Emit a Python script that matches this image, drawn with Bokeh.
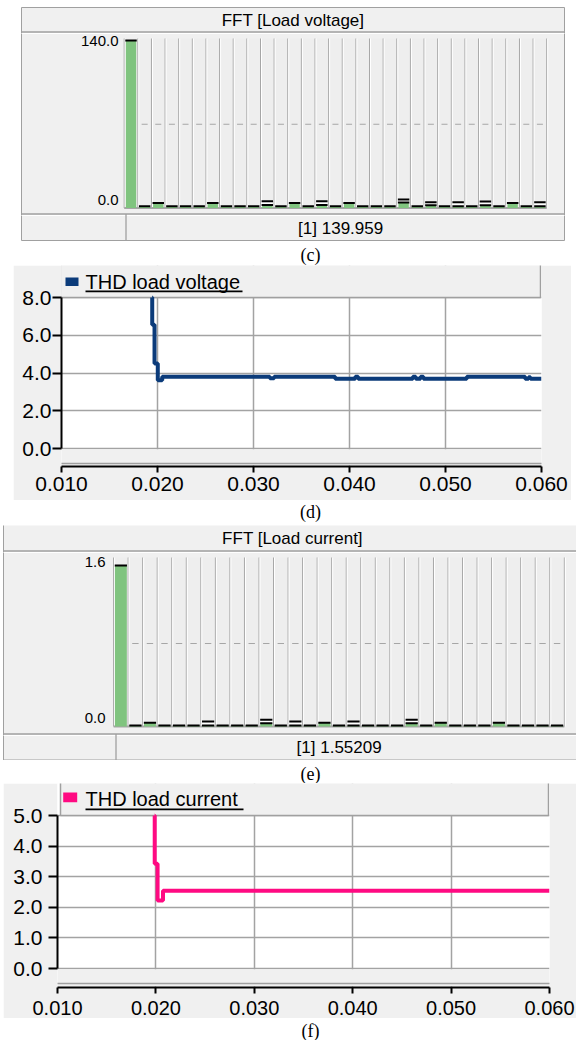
import numpy as np
from bokeh.plotting import figure
from bokeh.models import Range1d, FixedTicker, PrintfTickFormatter, Spacer
from bokeh.layouts import column, row
from bokeh.embed import file_html
from bokeh.resources import INLINE
from bokeh.core.properties import value

# ---------------------------------------------------------------- data
harmonics = list(range(1, 32))

v_fft_value = [139.959, 1.4, 4.1, 1.4, 1.4, 1.4, 4.1, 1.4, 1.4, 1.4,
               2.6, 1.4, 4.1, 1.4, 2.6, 1.4, 4.1, 1.4, 1.4, 1.4,
               4.5, 1.4, 2.4, 1.4, 1.4, 1.4, 2.4, 1.4, 4.1, 1.4, 1.4]
v_fft_peak = [139.959, 1.4, 4.1, 1.4, 1.4, 1.4, 4.1, 1.4, 1.4, 1.4,
              5.6, 1.4, 4.1, 1.4, 5.6, 1.4, 4.1, 1.4, 1.4, 1.4,
              7.1, 1.4, 4.9, 1.4, 4.9, 1.4, 5.4, 1.4, 4.1, 1.4, 4.9]
v_fft_ticks = [0.0, 140.0]
v_fft_tick_labels = ["0.0", "140.0"]

i_fft_value = [1.55209, 0.010, 0.036, 0.010, 0.010, 0.010, 0.010, 0.010, 0.010, 0.010,
               0.032, 0.010, 0.010, 0.010, 0.036, 0.010, 0.010, 0.010, 0.010, 0.010,
               0.032, 0.010, 0.036, 0.010, 0.010, 0.010, 0.036, 0.010, 0.010, 0.010, 0.010]
i_fft_peak = [1.55209, 0.010, 0.036, 0.010, 0.010, 0.010, 0.048, 0.010, 0.010, 0.010,
              0.065, 0.010, 0.048, 0.010, 0.036, 0.010, 0.048, 0.010, 0.010, 0.010,
              0.065, 0.010, 0.036, 0.010, 0.010, 0.010, 0.036, 0.010, 0.010, 0.010, 0.010]
i_fft_ticks = [0.0, 1.6]
i_fft_tick_labels = ["0.0", "1.6"]

thd_v_time = [0.01944, 0.01945, 0.01969, 0.02003, 0.02049, 0.03170, 0.03215, 0.03851,
              0.04060, 0.04090, 0.04660, 0.04690, 0.04740, 0.04770, 0.05222, 0.05830,
              0.05865, 0.05885, 0.06000]
thd_v_value = [8.00, 6.55, 4.50, 3.62, 3.80, 3.72, 3.80, 3.70,
               3.80, 3.70, 3.80, 3.70, 3.80, 3.70, 3.80, 3.70,
               3.78, 3.70, 3.70]

thd_i_time = [0.01987, 0.01988, 0.02017, 0.02072, 0.06000]
thd_i_value = [5.00, 3.42, 2.22, 2.54, 2.54]

thd_x_ticks = [0.010, 0.020, 0.030, 0.040, 0.050, 0.060]
thd_v_y_ticks = [0.0, 2.0, 4.0, 6.0, 8.0]
thd_i_y_ticks = [0.0, 1.0, 2.0, 3.0, 4.0, 5.0]

# ---------------------------------------------------------------- style
GRAY = "#f0f0f0"
EDGE = "#a0a0a0"
GREEN = "#80c47f"
BLUE = "#0b3b7a"
PINK = "#ff0a82"
SANS = "Liberation Sans"
SERIF = "Liberation Serif"
X0, X1 = 0, 576
W = X1 - X0


def base(H, xr, yr, width=W, **kw):
    opts = dict(width=width, height=H, x_range=xr, y_range=yr, toolbar_location=None, tools="",
                output_backend="svg", title=None, min_border=0, min_border_left=0,
                min_border_right=0, min_border_top=0, min_border_bottom=0,
                outline_line_color=None, background_fill_color="white",
                border_fill_color="white", frame_align=False)
    opts.update(kw)
    return figure(**opts)


def fft_panel(c, values, peaks, ticks, tick_labels, title):
    top, bottom = c["top"], c["bottom"]
    p = base(bottom - top, Range1d(X0, X1), Range1d(bottom, top),
             x_axis_type=None, y_axis_type=None)
    s = (c["zero_px"] - c["tick_top_px"]) / ticks[-1]
    p.extra_x_ranges = {"h": Range1d(0.5 + (X0 - c["lane_left"]) / c["lane_w"],
                                     0.5 + (X1 - c["lane_left"]) / c["lane_w"])}
    p.extra_y_ranges = {"v": Range1d((c["zero_px"] - bottom) / s, (c["zero_px"] - top) / s)}
    hv = dict(x_range_name="h", y_range_name="v")

    # instrument frame
    p.quad(left=[c["box_l"]], right=[c["box_r"]], top=[c["box_t"]], bottom=[c["box_b"]],
           fill_color=GRAY, line_color=EDGE, line_width=1)
    p.segment(x0=[c["box_l"]] * 2, x1=[c["box_r"]] * 2, y0=[c["title_b"], c["sep_y"]],
              y1=[c["title_b"], c["sep_y"]], line_color=EDGE, line_width=1.3)
    p.segment(x0=[c["box_l"]] * 2, x1=[c["box_r"]] * 2, y0=[c["title_b"] + 1.5, c["sep_y"] + 1.5],
              y1=[c["title_b"] + 1.5, c["sep_y"] + 1.5], line_color="white", line_width=1)
    p.segment(x0=[c["div_x"]], x1=[c["div_x"]], y0=[c["sep_y"]], y1=[c["box_b"]],
              line_color=EDGE, line_width=1.3)

    # lanes
    h = np.array(harmonics, dtype=float)
    vals = np.array(values, dtype=float)
    pks = np.array(peaks, dtype=float)
    lane_top_v = (c["zero_px"] - c["lane_top"]) / s
    p.vbar(x=h, width=1.0, bottom=0, top=lane_top_v, fill_color="#eeeeee", line_color=None, **hv)
    edges = np.concatenate([[h[0] - 0.5], h + 0.5])
    p.segment(x0=edges, x1=edges, y0=0, y1=lane_top_v, line_color="#a6a6a6", line_width=1, **hv)
    p.segment(x0=edges + 1.0 / c["lane_w"], x1=edges + 1.0 / c["lane_w"], y0=0, y1=lane_top_v,
              line_color="white", line_width=1, **hv)
    mid = ticks[-1] / 2.0
    p.segment(x0=h - 0.22, x1=h + 0.22, y0=mid, y1=mid, line_color="#a6a6a6", line_width=1, **hv)
    p.segment(x0=[edges[0]], x1=[edges[-1]], y0=[0], y1=[0], line_color="#a6a6a6",
              line_width=2, **hv)

    # spectrum
    bw = c["bar_w"]
    p.vbar(x=h, width=bw, bottom=0, top=vals, fill_color=GREEN, line_color=None, **hv)
    p.vbar(x=h, width=bw, bottom=vals, top=pks, fill_color="white", line_color=None, **hv)
    p.segment(x0=h - 0.42, x1=h + 0.42, y0=vals, y1=vals, line_color="black", line_width=2, **hv)
    m = pks > vals
    p.segment(x0=h[m] - 0.42, x1=h[m] + 0.42, y0=pks[m], y1=pks[m], line_color="black",
              line_width=2, **hv)

    # texts
    p.text(x=[c["tick_x"]] * len(ticks), y=ticks, text=tick_labels, y_offset=c["tick_dy"],
           text_align="right", text_baseline="middle", text_font=value(SANS),
           text_font_size="15px", text_color="black", y_range_name="v")
    p.text(x=[c["title_xy"][0]], y=[c["title_xy"][1]], text=[title], text_align="center",
           text_baseline="middle", text_font=value(SANS), text_font_size="17px", text_color="black")
    p.text(x=[c["status_xy"][0]], y=[c["status_xy"][1]], text=["[1]  %g" % values[0]],
           text_align="center", text_baseline="middle", text_font=value(SANS),
           text_font_size="17px", text_color="black")
    return p


def thd_panel(c, times, vals, yticks, color, legend_text):
    top, bottom = c["top"], c["bottom"]
    gl, gr = c["gray_l"], c["gray_r"]
    fl, fr, fb = c["frame_l"], c["frame_r"], c["frame_b"]
    ytp, yzp = c["ytop_px"], c["yzero_px"]
    ymax = yticks[-1]
    s = (yzp - ytp) / ymax
    yr = Range1d(-(fb - yzp) / s, ymax + (ytp - top) / s)
    xr = Range1d(thd_x_ticks[0], thd_x_ticks[-1])
    p = base(bottom - top, xr, yr, width=gr - gl, min_border_left=fl - gl,
             min_border_right=gr - fr, min_border_bottom=bottom - fb,
             border_fill_color=GRAY, background_fill_color="white")
    p.extra_x_ranges = {"px": Range1d(fl, fr)}
    p.extra_y_ranges = {"px": Range1d(fb, top)}
    px = dict(x_range_name="px", y_range_name="px")

    xa, ya = p.xaxis[0], p.yaxis[0]
    xa.ticker = FixedTicker(ticks=thd_x_ticks)
    xa.formatter = PrintfTickFormatter(format="%.3f")
    ya.ticker = FixedTicker(ticks=yticks)
    ya.formatter = PrintfTickFormatter(format="%.1f")
    ya.bounds = (yticks[0], yticks[-1])
    for ax in (xa, ya):
        ax.axis_line_color = "black"
        ax.axis_line_width = 2
        ax.major_tick_line_color = "black"
        ax.major_tick_line_width = 2
        ax.major_tick_in = 0
        ax.minor_tick_line_color = None
        ax.major_label_text_font = SANS
        ax.major_label_text_color = "black"
    xa.major_tick_out = 6
    xa.major_label_standoff = c["x_standoff"]
    xa.major_label_text_font_size = c["x_font"]
    ya.major_tick_out = 9
    ya.major_label_standoff = c["y_standoff"]
    ya.major_label_text_font_size = "21px"

    for g in (p.xgrid[0], p.ygrid[0]):
        g.grid_line_color = "#a3a3a3"
        g.grid_line_width = 1.5

    # legend strip above the plot area, and strip between plot area and x axis
    p.quad(left=[c["leg_l"]], right=[c["leg_r"]], top=[top - 4], bottom=[ytp],
           fill_color=GRAY, line_color=EDGE, line_width=1.5, **px)
    p.quad(left=[fl - 3], right=[fr + 3], top=[yzp + 0.8], bottom=[fb - 1],
           fill_color=GRAY, line_color=None, **px)
    p.segment(x0=[fl - 3], x1=[fr + 3], y0=[c["sep"]], y1=[c["sep"]], line_color=EDGE,
              line_width=1.5, **px)

    p.step(x=times, y=vals, mode="after", line_color=color, line_width=4)

    sw = c["swatch"]
    p.quad(left=[sw[0]], right=[sw[1]], top=[sw[2]], bottom=[sw[3]], fill_color=color,
           line_color=None, **px)
    p.text(x=[c["text_xy"][0]], y=[c["text_xy"][1]], text=[legend_text],
           text_baseline="middle", text_align="left", text_font=value(SANS),
           text_font_size="20px", text_color="black", **px)
    ul = c["underline"]
    p.quad(left=[ul[0]], right=[ul[1]], top=[ul[2]], bottom=[ul[3]], fill_color="black",
           line_color=None, **px)

    children = []
    if gl > X0:
        children.append(Spacer(width=gl - X0, height=bottom - top))
    children.append(p)
    if gr < X1:
        children.append(Spacer(width=X1 - gr, height=bottom - top))
    return row(*children, spacing=0)


def caption(text, H, cy):
    p = base(H, Range1d(X0, X1), Range1d(H, 0), x_axis_type=None, y_axis_type=None)
    p.text(x=[310], y=[cy], text=[text], text_align="center", text_baseline="middle",
           text_font=value(SERIF), text_font_size="18px", text_color="black")
    return p


cfg_fv = dict(top=0, bottom=241, box_l=21, box_r=564, box_t=7, box_b=240, title_b=31.5,
              sep_y=213.5, div_x=125.5, lane_left=123.7, lane_w=13.63, lane_top=38,
              zero_px=207.5, tick_top_px=40, tick_x=118, tick_dy=[-8.5, 0],
              title_xy=(292.5, 19.5), status_xy=(342.5, 227.5), bar_w=0.76)
cfg_fi = dict(top=525, bottom=760, box_l=3, box_r=577, box_t=524, box_b=759.5, title_b=550.5,
              sep_y=733.5, div_x=115.5, lane_left=113.1, lane_w=14.54, lane_top=557,
              zero_px=726, tick_top_px=560, tick_x=105, tick_dy=[-9, 1.5],
              title_xy=(292, 537.5), status_xy=(341, 747), bar_w=0.82)
cfg_tv = dict(top=265, bottom=500, gray_l=13, gray_r=571, frame_l=61, frame_r=541, frame_b=466,
              ytop_px=297, yzero_px=448, leg_l=60, leg_r=540, sep=463,
              swatch=(65, 78, 277, 285.5), text_xy=(85, 281), underline=(85, 242, 290, 291.7),
              x_font="21px", x_standoff=4, y_standoff=1)
cfg_ti = dict(top=783, bottom=1018, gray_l=3, gray_r=576, frame_l=57, frame_r=549, frame_b=987,
              ytop_px=815, yzero_px=968, leg_l=60, leg_r=548, sep=983,
              swatch=(62.7, 76.7, 792, 801.7), text_xy=(85, 798), underline=(85, 243, 808, 809.7),
              x_font="20px", x_standoff=7, y_standoff=6)

f1 = fft_panel(cfg_fv, v_fft_value, v_fft_peak, v_fft_ticks, v_fft_tick_labels, "FFT [Load voltage]")
c1 = caption("(c)", 24, 13)
f2 = thd_panel(cfg_tv, thd_v_time, thd_v_value, thd_v_y_ticks, BLUE, "THD load voltage")
c2 = caption("(d)", 25, 11)
f3 = fft_panel(cfg_fi, i_fft_value, i_fft_peak, i_fft_ticks, i_fft_tick_labels, "FFT [Load current]")
c3 = caption("(e)", 23, 13.5)
f4 = thd_panel(cfg_ti, thd_i_time, thd_i_value, thd_i_y_ticks, PINK, "THD load current")
c4 = caption("(f)", 22, 12.5)

layout = column(f1, c1, f2, c2, f3, c3, f4, c4, spacing=0)
open("out.html", "w").write(file_html(layout, INLINE))
